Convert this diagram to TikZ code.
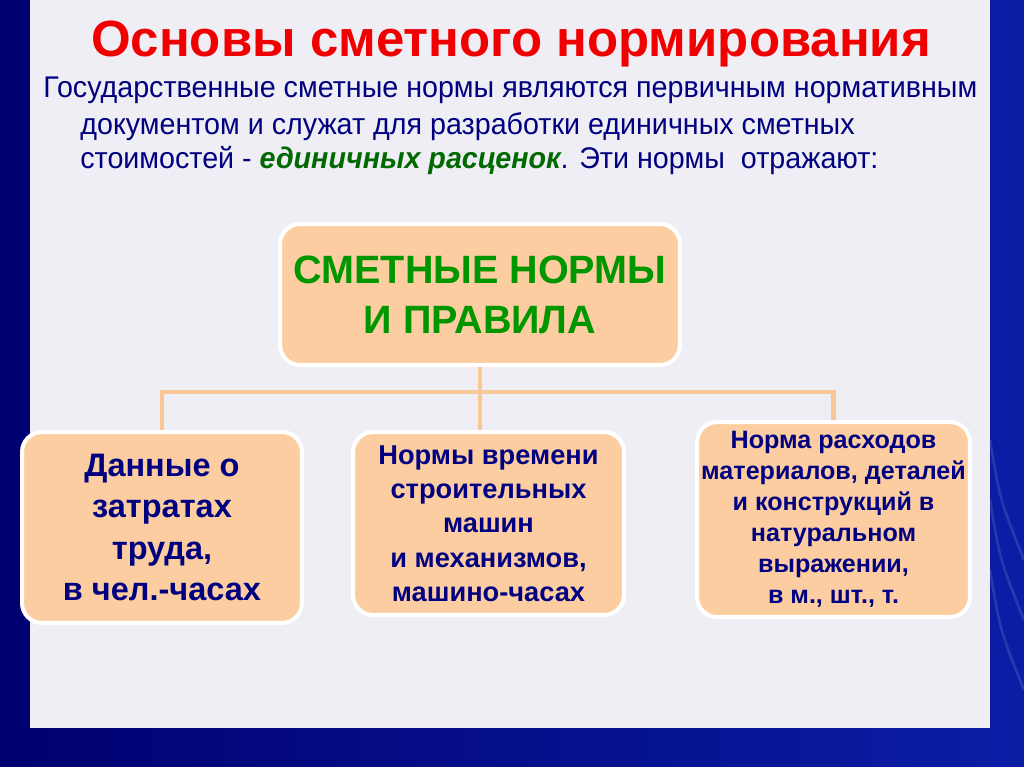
\documentclass[tikz,border=0pt]{standalone}
\usepackage{fontspec}
\setmainfont{Liberation Sans}
\newfontfamily\introfont[FakeStretch=0.96]{Liberation Sans}
\usepackage{xcolor}
\usepackage{tikz}

\definecolor{bgleft}{RGB}{0,0,112}
\definecolor{bgright}{RGB}{10,30,165}
\definecolor{panelgray}{RGB}{238,238,244}
\definecolor{peach}{RGB}{252,205,160}
\definecolor{linkpeach}{RGB}{250,200,152}
\definecolor{titlered}{RGB}{240,0,0}
\definecolor{navytext}{RGB}{0,0,128}
\definecolor{normgreen}{RGB}{0,150,0}
\definecolor{ratesgreen}{RGB}{0,105,0}

\begin{document}
\begin{tikzpicture}[
	x=0.02cm, y=-0.02cm,
	box/.style={rectangle, rounded corners=0.4cm, draw=white, line width=2.3pt, fill=peach, align=center, inner sep=0pt},
	intro/.style={anchor=base west, inner sep=0pt, text=navytext, font=\introfont\fontsize{17}{20}\selectfont},
	link/.style={draw=linkpeach, line width=2.3pt}
]
	\useasboundingbox (0,0) rectangle (1024,767);
	\fill[left color=bgleft, right color=bgright] (0,0) rectangle (1024,767);
	\foreach \y in {560,620,690}
		\draw[white, opacity=0.12, line width=1.5pt] (990,\y-120) .. controls (1000,\y-60) .. (1024,\y);
	\fill[panelgray] (30,0) rectangle (990,728);

	\node[anchor=base, text=titlered, font=\bfseries\fontsize{29}{34}\selectfont] (title) at (511,57) {Основы сметного нормирования};
	\node[intro] (intro1) at (43,98) {Государственные сметные нормы являются первичным нормативным};
	\node[intro] (intro2) at (80,134) {документом и служат для разработки единичных сметных};
	\node[intro] (intro3) at (80,168) {стоимостей - \textcolor{ratesgreen}{\bfseries\itshape единичных расценок}. Эти нормы\ \ отражают:};

	\node[box, minimum width=8cm, minimum height=2.82cm, text=normgreen, font=\bfseries\fontsize{22.5}{28.5}\selectfont] (norms) at (480,294.5) {СМЕТНЫЕ НОРМЫ\\И ПРАВИЛА};
	\node[box, minimum width=5.6cm, minimum height=3.82cm, text=navytext, font=\bfseries\fontsize{18.5}{23.5}\selectfont] (labour) at (162,527.5) {Данные о\\затратах\\труда,\\в чел.-часах};
	\node[box, minimum width=5.42cm, minimum height=3.66cm, text=navytext, font=\bfseries\fontsize{15.5}{19.5}\selectfont] (machines) at (488.5,523.5) {Нормы времени\\строительных\\машин\\и механизмов,\\машино-часах};
	\node[box, minimum width=5.46cm, minimum height=3.9cm, text=navytext, font=\bfseries\fontsize{14.3}{17.6}\selectfont] (materials) at (833.5,519.5) {Норма расходов\\материалов, деталей\\и конструкций в\\натуральном\\выражении,\\в м., шт., т.};

	\draw[link] (norms.south) -- ++(0,25) coordinate (hub);
	\draw[link] (labour.north) |- (hub) -| (materials.north);
	\draw[link] (hub) -- (hub |- machines.north);
\end{tikzpicture}
\end{document}
